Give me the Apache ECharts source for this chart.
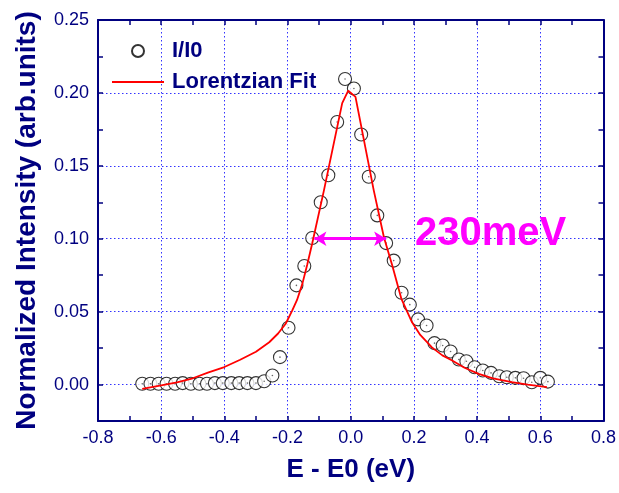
<!DOCTYPE html>
<html>
<head>
<meta charset="utf-8">
<script src="https://cdn.jsdelivr.net/npm/echarts@6/dist/echarts.min.js"></script>
<style>
html,body{margin:0;padding:0;background:#fff;}
#c{width:619px;height:493px;}
</style>
</head>
<body>
<div id="c"></div>
<script>
// Measured data (I/I0)
const dataE = [-0.660,-0.634,-0.608,-0.583,-0.556,-0.532,-0.506,-0.479,-0.455,-0.430,-0.405,-0.378,-0.353,-0.327,-0.300,-0.274,
  -0.248,-0.224,-0.197,-0.172,-0.147,-0.122,-0.095,-0.071,-0.043,-0.018,0.010,0.033,0.057,0.084,0.112,0.136,0.161,0.187,0.213,
  0.240,0.265,0.291,0.316,0.342,0.366,0.392,0.418,0.444,0.470,0.494,0.521,0.547,0.573,0.600,0.624];
const dataI = [0.0005,0.0005,0.0005,0.0005,0.0005,0.001,0.0005,0.0005,0.0005,0.001,0.001,0.001,0.001,0.001,0.001,0.0023,
  0.0062,0.0188,0.039,0.068,0.0813,0.1005,0.125,0.1435,0.18,0.2095,0.203,0.1715,0.1425,0.116,0.097,0.085,0.063,0.0548,0.0447,
  0.0405,0.0284,0.0268,0.0227,0.0172,0.016,0.0119,0.0096,0.008,0.0057,0.005,0.0046,0.0043,0.0016,0.0046,0.002];
// Lorentzian fit curve
const fitE = [-0.66,-0.6,-0.55,-0.5,-0.45,-0.4,-0.35,-0.3,-0.258,-0.23,-0.206,-0.185,-0.17,-0.153,-0.138,-0.122,-0.085,-0.027,-0.008,
  0.015,0.073,0.105,0.131,0.16,0.194,0.22,0.257,0.29,0.321,0.36,0.405,0.45,0.51,0.56,0.621];
const fitI = [-0.003,-0.0005,0.0015,0.0043,0.0083,0.012,0.017,0.0225,0.029,0.035,0.0417,0.0508,0.058,0.0692,0.082,0.0967,0.133,0.193,0.2016,
  0.1973,0.133,0.101,0.082,0.059,0.0427,0.034,0.0255,0.020,0.0165,0.0115,0.0073,0.0042,0.0016,0.0,-0.0018];
// FWHM annotation
const fwhmE = [-0.115, 0.112];
const fwhmI = 0.1;
const fwhmText = '230meV';
// Axes
const xRange = [-0.8, 0.8], xStep = 0.2;
const yRange = [-0.025, 0.25], yStep = 0.025;
const seriesNames = ['I/I0', 'Lorentzian Fit'];
const xTitle = 'E - E0 (eV)';
const yTitle = 'Normalized Intensity (arb.units)';

const NAVY = '#000080';
const FONT = '"Liberation Sans", Arial, sans-serif';
const zip = (a, b) => a.map((v, i) => [v, b[i]]);

const chart = echarts.init(document.getElementById('c'), null, {renderer: 'canvas'});
const axisLine = {onZero: false, lineStyle: {color: NAVY, width: 2}};
const tick = {inside: true, length: 5, lineStyle: {color: NAVY, width: 1.5}};
const minor = {show: true, splitNumber: 2, length: 5, lineStyle: {color: NAVY, width: 1.5}};
const grid = {left: 98, right: 14, top: 20, bottom: 72};
const gridLine = {color: '#3333ff', width: 1, type: [1.5, 2.5]};

chart.setOption({
  animation: false,
  backgroundColor: '#fff',
  grid: grid,
  legend: {
    data: [{name: seriesNames[0]}, {name: seriesNames[1], itemStyle: {opacity: 0}}],
    orient: 'vertical',
    left: 106, top: 35,
    itemWidth: 52, itemHeight: 12, itemGap: 9,
    textStyle: {color: NAVY, fontWeight: 'bold', fontSize: 22, fontFamily: FONT, padding: [0, 0, 0, 3]}
  },
  xAxis: [{
    type: 'value', min: xRange[0], max: xRange[1], interval: xStep,
    name: xTitle, nameLocation: 'middle', nameGap: 36,
    nameTextStyle: {color: NAVY, fontWeight: 'bold', fontSize: 26, fontFamily: FONT},
    axisLine: axisLine, axisTick: tick, minorTick: minor,
    axisLabel: {color: NAVY, fontSize: 18, fontFamily: FONT, margin: 8, formatter: v => v.toFixed(1)},
    splitLine: {show: true, lineStyle: gridLine}
  }, {
    type: 'value', position: 'top', min: xRange[0], max: xRange[1], interval: xStep,
    axisLine: axisLine, axisTick: tick, minorTick: minor,
    axisLabel: {show: false}, splitLine: {show: false}
  }],
  yAxis: [{
    type: 'value', min: yRange[0], max: yRange[1], interval: yStep,
    name: yTitle, nameLocation: 'middle', nameGap: 57,
    nameTextStyle: {color: NAVY, fontWeight: 'bold', fontSize: 28, fontFamily: FONT},
    axisLine: axisLine, axisTick: tick,
    axisLabel: {color: NAVY, fontSize: 18, fontFamily: FONT, margin: 9,
      formatter: v => (Math.abs(Math.round(v / yStep)) % 2 === 0 ? v.toFixed(2) : '')},
    splitLine: {show: true, lineStyle: Object.assign({}, gridLine, {color: ['rgba(0,0,0,0)', '#3333ff']})}
  }, {
    type: 'value', position: 'right', min: yRange[0], max: yRange[1], interval: yStep,
    axisLine: axisLine, axisTick: tick,
    axisLabel: {show: false}, splitLine: {show: false}
  }],
  series: [{
    name: seriesNames[0], type: 'scatter', z: 2,
    data: zip(dataE, dataI),
    symbol: 'circle', symbolSize: 13,
    itemStyle: {color: '#ffffff', borderColor: '#000000', borderWidth: 1.1}
  }, {
    name: 'dots', type: 'scatter', z: 3, silent: true,
    data: zip(dataE, dataI),
    symbol: 'circle', symbolSize: 1.6,
    itemStyle: {color: '#444444'}
  }, {
    name: seriesNames[1], type: 'line', z: 4,
    data: zip(fitE, fitI),
    showSymbol: false, symbol: 'none', symbolSize: 0, smooth: false,
    lineStyle: {color: '#ff0000', width: 1.8},
    itemStyle: {color: '#ff0000'},
    markLine: {
      silent: true, symbol: ['arrow', 'arrow'], symbolSize: [11, 12],
      label: {show: false},
      lineStyle: {color: '#ff00ff', width: 3, type: 'solid'},
      data: [[{coord: [fwhmE[0], fwhmI]}, {coord: [fwhmE[1], fwhmI]}]]
    }
  }],
  graphic: [{
    type: 'text', x: 415, y: 234, z: 10,
    style: {text: fwhmText, fill: '#ff00ff', font: 'bold 40px "Liberation Sans", Arial, sans-serif',
      verticalAlign: 'middle', textVerticalAlign: 'middle'}
  }]
});
</script>
</body>
</html>
